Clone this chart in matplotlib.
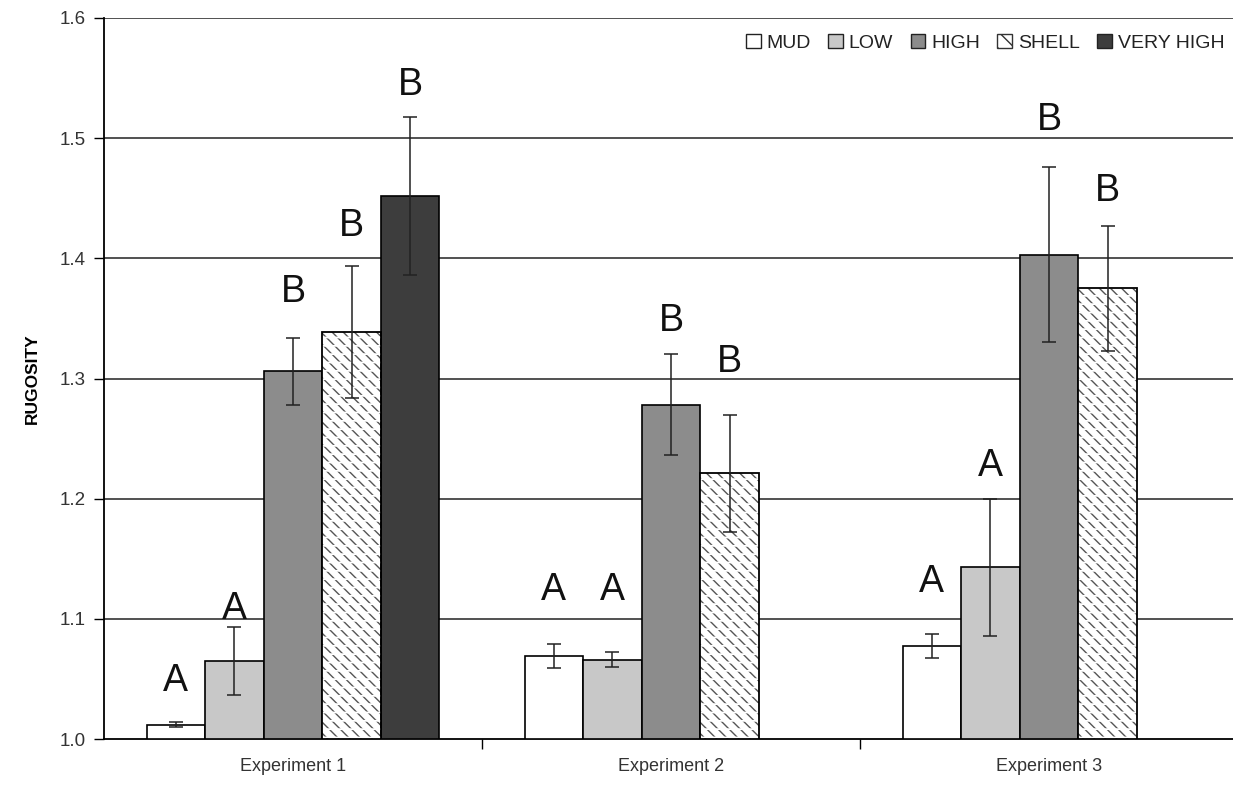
import matplotlib
matplotlib.use("Agg")
import matplotlib.pyplot as plt
import numpy as np
from matplotlib.patches import Patch

plt.rcParams['font.family'] = ['Liberation Sans', 'DejaVu Sans']

experiments = ["Experiment 1", "Experiment 2", "Experiment 3"]
series = ["MUD", "LOW", "HIGH", "SHELL", "VERY HIGH"]

mud = [1.012, 1.069, 1.077]
low = [1.065, 1.066, 1.143]
high = [1.306, 1.278, 1.403]
shell = [1.339, 1.221, 1.375]
very_high = [1.452, np.nan, np.nan]

mud_err = [0.002, 0.010, 0.010]
low_err = [0.028, 0.006, 0.057]
high_err = [0.028, 0.042, 0.073]
shell_err = [0.055, 0.049, 0.052]
very_high_err = [0.066, np.nan, np.nan]

# significance letters and their heights
mud_letters = ["A", "A", "A"]
low_letters = ["A", "A", "A"]
high_letters = ["B", "B", "B"]
shell_letters = ["B", "B", "B"]
very_high_letters = ["B", "", ""]
mud_letter_y = [1.048, 1.124, 1.131]
low_letter_y = [1.108, 1.124, 1.227]
high_letter_y = [1.372, 1.348, 1.515]
shell_letter_y = [1.427, 1.314, 1.456]
very_high_letter_y = [1.544, np.nan, np.nan]

values = [mud, low, high, shell, very_high]
errors = [mud_err, low_err, high_err, shell_err, very_high_err]
letters = [mud_letters, low_letters, high_letters, shell_letters, very_high_letters]
letter_y = [mud_letter_y, low_letter_y, high_letter_y, shell_letter_y, very_high_letter_y]

colors = ["#ffffff", "#c8c8c8", "#8c8c8c", "#ffffff", "#3d3d3d"]
hatches = [None, None, None, "\\\\\\", None]

W, H = 1233, 786
fig = plt.figure(figsize=(W / 100, H / 100), dpi=100)
left, right, bottom, top = 104, 1238, 739, 18
ax = fig.add_axes([left / W, 1 - bottom / H, (right - left) / W, (bottom - top) / H])

x = np.arange(len(experiments))
bw = 0.155
for i, name in enumerate(series):
    pos = x + (i - 2) * bw
    vals = np.array(values[i], dtype=float)
    errs = np.array(errors[i], dtype=float)
    mask = ~np.isnan(vals)
    if hatches[i]:
        with plt.rc_context({'hatch.linewidth': 1.0}):
            ax.bar(pos[mask], vals[mask] - 1.0, bottom=1.0, width=bw, color="white",
                   edgecolor="#555555", linewidth=0, hatch=hatches[i], zorder=3)
        with plt.rc_context({'hatch.linewidth': 1.3}):
            ax.bar(pos[mask], vals[mask] - 1.0, bottom=1.0, width=bw, fill=False,
                   edgecolor="white", linewidth=0, hatch="--", zorder=3.1)
        ax.bar(pos[mask], vals[mask] - 1.0, bottom=1.0, width=bw, fill=False,
               edgecolor="black", linewidth=1.3, zorder=3.2)
    else:
        ax.bar(pos[mask], vals[mask] - 1.0, bottom=1.0, width=bw, color=colors[i],
               edgecolor="black", linewidth=1.2, zorder=3)
    ax.errorbar(pos[mask], vals[mask], yerr=errs[mask], fmt="none", ecolor="#222222",
                elinewidth=1.1, capsize=5, capthick=1.1, zorder=4)
    for j in range(len(experiments)):
        if mask[j] and letters[i][j]:
            ax.text(pos[j], letter_y[i][j], letters[i][j], ha="center", va="center",
                    fontsize=27, color="#111111", zorder=5)

ax.set_xlim(-0.5, 2.5)
ax.set_ylim(1.0, 1.6)
yt = [1.0, 1.1, 1.2, 1.3, 1.4, 1.5, 1.6]
ax.set_yticks(yt)
ax.set_yticklabels([f"{v:.1f}" for v in yt], fontsize=13.5, color="#333333")
for v in yt[1:]:
    ax.axhline(v, color="#222222", linewidth=1.1, zorder=1)

ax.set_xticks([0.5, 1.5])
ax.set_xticklabels([])
ax.set_xticks(x, minor=True)
ax.set_xticklabels(experiments, minor=True, fontsize=13, color="#333333")
ax.tick_params(axis="x", which="major", length=7, width=1, direction="out")
ax.tick_params(axis="x", which="minor", length=0, pad=14)
ax.tick_params(axis="y", length=7, width=1, direction="out", pad=6)

for s in ["top", "right"]:
    ax.spines[s].set_visible(False)
ax.spines["left"].set_linewidth(1.3)
ax.spines["bottom"].set_linewidth(1.3)

ax.set_ylabel("RUGOSITY", fontsize=12.5, fontweight="bold", labelpad=14)

proxies = []
for i, name in enumerate(series):
    if hatches[i]:
        proxies.append(Patch(facecolor="white", edgecolor="#333333", hatch="\\\\", linewidth=1.0, label=name))
    else:
        proxies.append(Patch(facecolor=colors[i], edgecolor="#222222", linewidth=1.0, label=name))
leg = ax.legend(handles=proxies, loc="upper right", bbox_to_anchor=(1232 / W, 1 - 26 / H),
                bbox_transform=fig.transFigure, ncol=5, frameon=False,
                handlelength=0.75, handleheight=0.75, handletextpad=0.3,
                columnspacing=0.9, fontsize=14, borderaxespad=0)
for t in leg.get_texts():
    t.set_color("#222222")

fig.savefig("out.png", dpi=100)
